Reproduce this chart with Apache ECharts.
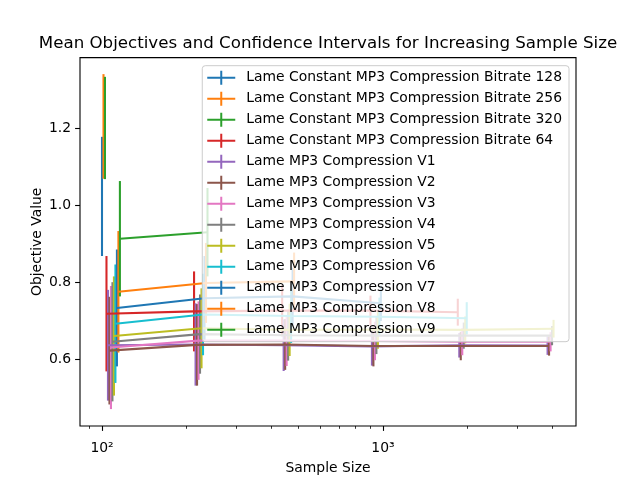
<!DOCTYPE html>
<html><head><meta charset="utf-8">
<script src="https://cdn.jsdelivr.net/npm/echarts@6/dist/echarts.min.js"></script>
<style>html,body{margin:0;padding:0;background:#fff}#c{width:640px;height:480px}</style>
</head><body><div id="c"></div>
<script>
// ---- data ----
const sampleSizes = [100, 205, 422, 870, 1780, 3670];
const seriesNames = [
  'Lame Constant MP3 Compression Bitrate 128',
  'Lame Constant MP3 Compression Bitrate 256',
  'Lame Constant MP3 Compression Bitrate 320',
  'Lame Constant MP3 Compression Bitrate 64',
  'Lame MP3 Compression V1',
  'Lame MP3 Compression V2',
  'Lame MP3 Compression V3',
  'Lame MP3 Compression V4',
  'Lame MP3 Compression V5',
  'Lame MP3 Compression V6',
  'Lame MP3 Compression V7',
  'Lame MP3 Compression V8',
  'Lame MP3 Compression V9'
];
const meanB128 = [1.023];
const ciB128   = [0.155];
const meanB256 = [1.205];
const ciB256   = [0.136];
const meanB320 = [1.201];
const ciB320   = [0.133];
const meanB64  = [0.718, 0.724, 0.726, 0.726, 0.722];
const ciB64    = [0.150, 0.104, 0.067, 0.039, 0.035];
const meanV1 = [0.636, 0.638, 0.636, 0.633, 0.636, 0.635];
const ciV1   = [0.144, 0.107, 0.067, 0.050, 0.032, 0.024];
const meanV2 = [0.622, 0.637, 0.638, 0.634, 0.634, 0.634];
const ciV2   = [0.140, 0.106, 0.066, 0.053, 0.037, 0.025];
const meanV3 = [0.630, 0.648, 0.648, 0.647, 0.645, 0.645];
const ciV3   = [0.160, 0.102, 0.066, 0.050, 0.035, 0.025];
const meanV4 = [0.645, 0.665, 0.662, 0.661, 0.661, 0.661];
const ciV4   = [0.155, 0.103, 0.066, 0.048, 0.034, 0.025];
const meanV5 = [0.660, 0.680, 0.676, 0.677, 0.676, 0.679];
const ciV5   = [0.155, 0.104, 0.068, 0.050, 0.035, 0.023];
const meanV6 = [0.692, 0.716, 0.712, 0.710, 0.706];
const ciV6   = [0.154, 0.106, 0.070, 0.050, 0.042];
const meanV7 = [0.733, 0.758, 0.763, 0.745];
const ciV7   = [0.152, 0.110, 0.075, 0.046];
const meanV8 = [0.775, 0.798, 0.802];
const ciV8   = [0.158, 0.104, 0.075];
const meanV9 = [0.913, 0.930];
const ciV9   = [0.150, 0.115];
const xTickValues = [100, 1000];
const xMinorTickValues = [90, 200, 300, 400, 500, 600, 700, 800, 900, 2000, 3000, 4000];
const yTickValues = [0.6, 0.8, 1.0, 1.2];

// ---- styling / assembly ----
const allMeans = [meanB128, meanB256, meanB320, meanB64, meanV1, meanV2, meanV3, meanV4, meanV5, meanV6, meanV7, meanV8, meanV9];
const allCis = [ciB128, ciB256, ciB320, ciB64, ciV1, ciV2, ciV3, ciV4, ciV5, ciV6, ciV7, ciV8, ciV9];
const palette = ['#1f77b4','#ff7f0e','#2ca02c','#d62728','#9467bd','#8c564b','#e377c2','#7f7f7f','#bcbd22','#17becf'];
const dodge = 1.0123; // horizontal dodge between series (position only)
const FONT = 'DejaVu Sans';
const LW = 2.08;

const ebSeries = [], lineSeries = [];
seriesNames.forEach((name, i) => {
  const color = palette[i % palette.length];
  const f = Math.pow(dodge, i);
  const m = allMeans[i], c = allCis[i];
  const pts = m.map((v, k) => [sampleSizes[k] * f, v]);
  const bars = m.map((v, k) => [sampleSizes[k] * f, v - c[k], v + c[k]]);
  ebSeries.push({
    type: 'custom', name: 'eb' + i, xAxisIndex: 0, yAxisIndex: 0, z: 2,
    data: bars, encode: { x: 0, y: [1, 2] }, silent: true,
    renderItem: (params, api) => {
      const p1 = api.coord([api.value(0), api.value(1)]);
      const p2 = api.coord([api.value(0), api.value(2)]);
      return { type: 'line', shape: { x1: p1[0], y1: p1[1], x2: p2[0], y2: p2[1] },
               style: { stroke: color, lineWidth: LW } };
    }
  });
  lineSeries.push({
    type: 'line', name: name, xAxisIndex: 0, yAxisIndex: 0, z: 3, color: color,
    data: pts, symbol: 'none', showSymbol: false, animation: false,
    lineStyle: { color: color, width: LW }, itemStyle: { color: color }
  });
});

const legendIcon = 'path://M0,6 L28,6 L28,8 L0,8 Z M13,0 L15,0 L15,14 L13,14 Z';
const supDigits = { '0':'⁰','1':'¹','2':'²','3':'³','4':'⁴' };

const chart = echarts.init(document.getElementById('c'), null, { renderer: 'canvas' });
chart.setOption({
  animation: false,
  backgroundColor: '#ffffff',
  graphic: [{
    type: 'text', x: 328, y: 43.5, z: 10,
    style: { text: 'Mean Objectives and Confidence Intervals for Increasing Sample Size',
             font: '16.67px "DejaVu Sans"', fill: '#000', textAlign: 'center', textVerticalAlign: 'middle' }
  }],
  grid: { left: 80, right: 64, top: 57.6, bottom: 52.8, show: true, borderColor: '#000', borderWidth: 1.1, backgroundColor: 'transparent' },
  xAxis: [{
    type: 'log', logBase: 10, min: 83.5, max: 4865, position: 'bottom',
    name: 'Sample Size', nameLocation: 'middle', nameGap: 35, nameMoveOverlap: false,
    nameTextStyle: { fontSize: 13.9, fontFamily: FONT, color: '#000' },
    axisLine: { show: false },
    axisTick: { show: true, customValues: xTickValues, length: 4.9, lineStyle: { color: '#000', width: 1.1 } },
    axisLabel: { show: true, customValues: xTickValues, margin: 15, fontSize: 13.9, fontFamily: FONT, color: '#000',
      formatter: v => '10' + String(Math.round(Math.log10(v))).split('').map(d => supDigits[d]).join('') },
    splitLine: { show: false }
  }, {
    type: 'log', logBase: 10, min: 83.5, max: 4865, position: 'bottom', gridIndex: 0,
    axisLine: { show: false },
    axisTick: { show: true, customValues: xMinorTickValues, length: 2.8, lineStyle: { color: '#000', width: 0.8 } },
    axisLabel: { show: false }, splitLine: { show: false }
  }],
  yAxis: {
    type: 'value', min: 0.426, max: 1.384,
    name: 'Objective Value', nameLocation: 'middle', nameGap: 36, nameMoveOverlap: false,
    nameTextStyle: { fontSize: 13.9, fontFamily: FONT, color: '#000' },
    axisLine: { show: false },
    axisTick: { show: true, customValues: yTickValues, length: 4.9, lineStyle: { color: '#000', width: 1.1 } },
    axisLabel: { show: true, customValues: yTickValues, margin: 9, fontSize: 13.9, fontFamily: FONT, color: '#000',
      formatter: v => v.toFixed(1) },
    splitLine: { show: false }
  },
  legend: {
    show: true, orient: 'vertical', right: 71, top: 65.7, z: 10,
    itemWidth: 28, itemHeight: 14, itemGap: 7,
    padding: [5, 7, 5, 5],
    backgroundColor: 'rgba(255,255,255,0.8)', borderColor: '#cccccc', borderWidth: 1, borderRadius: 3,
    selectedMode: false,
    itemStyle: { borderWidth: 0 },
    textStyle: { fontSize: 13.9, fontFamily: FONT, color: '#000', lineHeight: 14, padding: [0, 0, 0, 6] },
    data: seriesNames.map(n => ({ name: n, icon: legendIcon }))
  },
  series: ebSeries.concat(lineSeries)
});
</script>
</body></html>
